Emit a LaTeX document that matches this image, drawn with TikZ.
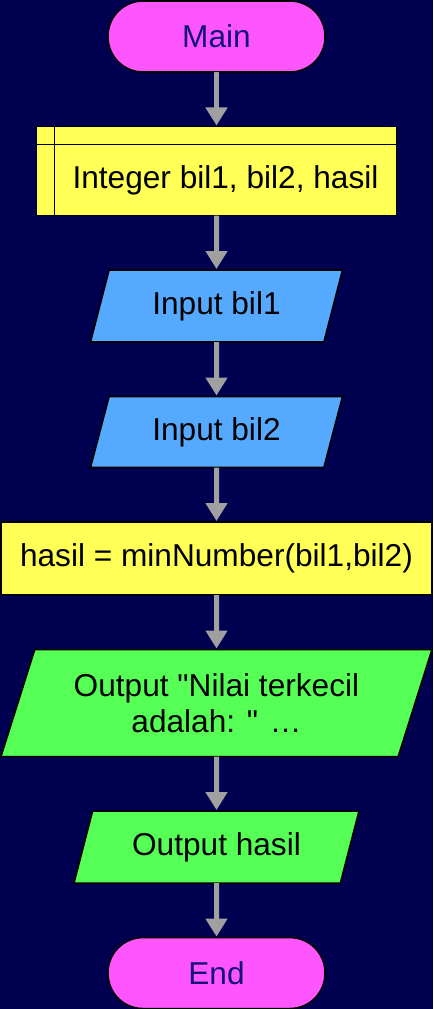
\documentclass[tikz,border=0pt]{standalone}
\usepackage{fontspec}
\setmainfont{Liberation Sans}
\usetikzlibrary{shapes.geometric, arrows.meta, positioning, calc}
\usepackage{xcolor}
\definecolor{bgnavy}{RGB}{0,0,80}
\definecolor{termpink}{RGB}{255,85,255}
\definecolor{procyellow}{RGB}{255,255,85}
\definecolor{iblue}{RGB}{85,170,255}
\definecolor{ogreen}{RGB}{85,255,85}
\definecolor{arrowgray}{RGB}{160,160,160}
\definecolor{termtext}{RGB}{20,20,120}

\begin{document}
\begin{tikzpicture}[
  node distance=1.09cm,
  every node/.style={font=\fontsize{18}{20.5}\selectfont, outer sep=0pt, inner sep=2pt},
  term/.style={draw, line width=0.9pt, fill=termpink, text=termtext, rectangle, rounded corners=0.7cm, minimum width=4.34cm, minimum height=1.42cm},
  decl/.style={draw, line width=0.9pt, fill=procyellow, rectangle, minimum width=7.2cm, minimum height=1.78cm},
  proc/.style={draw, line width=0.9pt, fill=procyellow, rectangle, minimum width=8.62cm, minimum height=1.46cm},
  io/.style={draw, line width=0.9pt, trapezium, trapezium left angle=63, trapezium right angle=117, trapezium stretches body, align=center},
  arrow/.style={-{Triangle[length=0.36cm, width=0.42cm]}, line width=0.1cm, draw=arrowgray, shorten >=0.02cm}]
  \fill[bgnavy] (0,0) rectangle (8.66,-20.18);
  \useasboundingbox (0,0) rectangle (8.66,-20.18);
  \node[term] (main) at (4.33,-0.73) {Main};
  \node[decl, below=of main] (vars) {};
  \draw[line width=0.9pt] ([xshift=0.36cm]vars.north west) -- ([xshift=0.36cm]vars.south west);
  \draw[line width=0.9pt] ([yshift=-0.36cm]vars.north west) -- ([yshift=-0.36cm]vars.north east);
  \node (varstext) at ([xshift=0.18cm, yshift=-0.18cm]vars.center) {Integer bil1, bil2, hasil};
  \node[io, fill=iblue, minimum width=5.04cm, minimum height=1.44cm, below=of vars] (in1) {Input bil1};
  \node[io, fill=iblue, minimum width=5.04cm, minimum height=1.42cm, below=of in1] (in2) {Input bil2};
  \node[proc, below=of in2] (calc) {hasil = minNumber(bil1,bil2)};
  \node[io, fill=ogreen, minimum width=8.62cm, minimum height=2.14cm, below=of calc] (out1) {Output \textquotedbl Nilai terkecil\\adalah: \textquotedbl{} …};
  \node[io, fill=ogreen, minimum width=5.7cm, minimum height=1.44cm, below=of out1] (out2) {Output hasil};
  \node[term, below=of out2] (stop) {End};
  \draw[arrow] (main) -- (vars);
  \draw[arrow] (vars) -- (in1);
  \draw[arrow] (in1) -- (in2);
  \draw[arrow] (in2) -- (calc);
  \draw[arrow] (calc) -- (out1);
  \draw[arrow] (out1) -- (out2);
  \draw[arrow] (out2) -- (stop);
\end{tikzpicture}
\end{document}
